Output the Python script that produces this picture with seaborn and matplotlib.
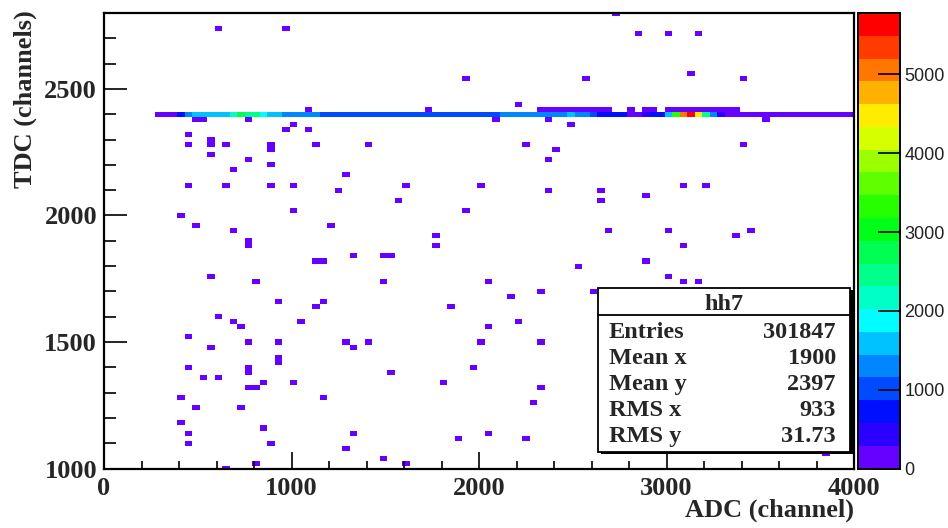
import numpy as np
import pandas as pd
import matplotlib
matplotlib.use("Agg")
import matplotlib.pyplot as plt
from matplotlib.colors import ListedColormap
from matplotlib.patches import Rectangle
from matplotlib.lines import Line2D
from matplotlib.ticker import MultipleLocator
import seaborn as sns

# ------------------------------------------------------------------ data
# main band (TDC ~ 2400): ADC bin values and their contents
main_tdc = 2400
main_adc = [290, 330, 370, 410, 450, 490, 530, 570, 610, 650, 690, 730, 770, 810, 850, 890, 930, 970, 1010, 1050, 1090, 1130,
            1170, 1210, 1250, 1290, 1330, 1370, 1410, 1450, 1490, 1530, 1570, 1610, 1650, 1690, 1730, 1770, 1810, 1850,
            1890, 1930, 1970, 2010, 2050, 2090,
            2130, 2170, 2210, 2250, 2290, 2330, 2370, 2410, 2450, 2490, 2530, 2570, 2610, 2650, 2690, 2730, 2770, 2810,
            2850, 2890, 2930, 2970,
            3010, 3050, 3090, 3130, 3170, 3210, 3250, 3290,
            3330, 3370, 3410, 3450, 3490, 3530, 3570, 3610, 3650, 3690, 3730, 3770, 3810, 3850, 3890, 3930, 3970, 4010]
main_counts = [145, 145, 145, 723, 1301, 1590, 1590, 1590, 1590, 1590, 2168, 2746, 2457, 2457, 1879, 1590, 1590,
               1301, 1301, 1301, 1301, 1301,
               1020, 985, 1040, 1005, 960, 1050, 1010, 990, 1030, 970, 1015, 1045, 995, 980, 1025, 1060, 1000, 975,
               1035, 1010, 990, 1050, 1020, 985,
               1280, 1310, 1295, 1330, 1270, 1240, 1260, 1300, 1320, 1600, 1350, 1310, 1080, 740, 700, 760, 690, 230,
               250, 420, 680, 750,
               1650, 3330, 5050, 5700, 4450, 2500, 1300, 420,
               120, 140, 110, 160, 130, 150, 100, 120, 140, 90, 110, 130, 100, 120, 90, 110, 80, 60]

# row just above the band (TDC ~ 2420)
upper_tdc = 2420
upper_adc = [2330, 2370, 2410, 2450, 2490, 2530, 2570, 2610, 2650, 2690, 2810, 2890, 2930,
             3010, 3050, 3090, 3130, 3170, 3210, 3250, 3290, 3330, 3370]
upper_counts = [30, 45, 40, 60, 35, 50, 40, 55, 30, 25, 20, 25, 30,
                60, 90, 120, 140, 110, 80, 50, 40, 30, 25]

# isolated single entries (ADC, TDC)
stray_adc = [615, 976, 1095, 500, 540, 779, 1019, 976, 1095,
             460, 581, 460, 581, 660, 898, 898, 1136, 1419, 581, 779, 898,
             699, 1298, 460, 660, 898, 1019, 1259, 1616, 1575, 420, 1019, 496, 1216, 699,
             2738, 2857, 3013, 3175, 3134, 1934, 2576, 3413, 2215, 1735, 2096, 2379, 2498, 3540,
             2257, 2414, 2379, 3413, 2018, 2379, 2654, 2654, 2893, 3097, 3216, 1934, 1778, 2695,
             3013, 3456, 3372,
             779, 779, 1780, 1780, 1140, 1180, 1335, 1500, 1540, 581, 820, 1495, 2053,
             939, 1136, 1179, 1856, 615, 699, 738, 1060, 2053, 460, 779, 939, 1298, 1335, 1419,
             2020, 581, 939, 939, 779, 779, 460, 1540, 1977, 537, 615, 779, 820, 855, 1019, 1815,
             420, 1179, 496, 738, 420, 460, 855, 1335, 2053, 460, 898, 1298, 1899, 1495, 1616, 820, 660,
             3097, 2533, 2892, 3013, 3097, 3173, 2174, 2338, 2611, 2217, 2338, 2338, 2295, 2259, 3859]
stray_tdc = [2746, 2746, 2424, 2384, 2384, 2384, 2362, 2342, 2342,
             2325, 2307, 2289, 2272, 2272, 2262, 2282, 2272, 2289, 2238, 2222, 2205,
             2183, 2160, 2127, 2110, 2127, 2127, 2093, 2127, 2058, 1998, 2019, 1964, 1964, 1930,
             2796, 2728, 2712, 2712, 2564, 2532, 2532, 2532, 2437, 2420, 2381, 2381, 2368, 2381,
             2272, 2256, 2222, 2272, 2110, 2093, 2093, 2058, 2076, 2110, 2110, 2019, 1914, 1930,
             1947, 1947, 1914,
             1882, 1902, 1912, 1877, 1817, 1817, 1835, 1835, 1835, 1765, 1730, 1730, 1749,
             1653, 1637, 1653, 1637, 1603, 1586, 1568, 1586, 1551, 1528, 1508, 1491, 1491, 1474, 1508,
             1491, 1474, 1422, 1442, 1382, 1402, 1405, 1387, 1405, 1366, 1366, 1327, 1310, 1345, 1345, 1345,
             1276, 1276, 1242, 1242, 1180, 1147, 1164, 1147, 1147, 1096, 1096, 1078, 1113, 1040, 1018, 1018, 1001,
             1877, 1800, 1817, 1766, 1749, 1732, 1673, 1692, 1692, 1584, 1508, 1326, 1258, 1113, 1057]

# axis / colour-bar tick labels and statistics box
x_ticks = [0, 1000, 2000, 3000, 4000]
x_labels = ["0", "1000", "2000", "3000", "4000"]
y_ticks = [1000, 1500, 2000, 2500]
y_labels = ["1000", "1500", "2000", "2500"]
z_ticks = [0, 1000, 2000, 3000, 4000, 5000]
z_labels = ["0", "1000", "2000", "3000", "4000", "5000"]
z_max = 5780
hist_name = "hh7"
stat_names = ["Entries", "Mean x", "Mean y", "RMS x", "RMS y"]
stat_values = ["301847", "1900", "2397", "933", "31.73"]

# ------------------------------------------------------------------ table
df = pd.concat([
    pd.DataFrame({"adc": main_adc, "tdc": main_tdc, "w": main_counts}),
    pd.DataFrame({"adc": upper_adc, "tdc": upper_tdc, "w": upper_counts}),
    pd.DataFrame({"adc": stray_adc, "tdc": stray_tdc, "w": 1}),
], ignore_index=True)

# ROOT "pretty" palette, 20 contour levels
palette = ["#6600ff", "#2b00ff", "#0010ff", "#004bff", "#0086ff", "#00c2ff", "#00fdff", "#00ffc7",
           "#00ff8b", "#00ff50", "#00ff16", "#25ff00", "#60ff00", "#9cff00", "#d6ff00", "#ffec00",
           "#ffb100", "#ff7600", "#ff3b00", "#ff0000"]
cmap = ListedColormap(palette)

sns.set_style("white")
plt.rcParams["font.family"] = ["Liberation Serif", "DejaVu Serif"]

W, H = 948, 528
fig = plt.figure(figsize=(W / 100, H / 100), dpi=100)
fx = lambda px: px / W
fy = lambda py: 1 - py / H

ax_l, ax_r, ax_t, ax_b = 104, 854, 13, 468.5
ax = fig.add_axes([fx(ax_l), fy(ax_b), (ax_r - ax_l) / W, (ax_b - ax_t) / H])
cax = fig.add_axes([fx(858), fy(ax_b), 42 / W, (ax_b - ax_t) / H])

sns.histplot(data=df, x="adc", y="tdc", weights="w",
             binwidth=(40, 20), binrange=((-10, 4030), (990, 2810)),
             cmap=cmap, vmin=0, vmax=z_max, cbar=True, cbar_ax=cax,
             cbar_kws={"ticks": z_ticks}, ax=ax)

ax.set_axisbelow(False)
ax.set_xlim(0, 4000)
ax.set_ylim(1000, 2800)
ax.set_xticks(x_ticks)
ax.set_xticklabels(x_labels, fontsize=19, fontweight="bold")
ax.set_yticks(y_ticks)
ax.set_yticklabels(y_labels, fontsize=19, fontweight="bold")
ax.xaxis.set_minor_locator(MultipleLocator(200))
ax.yaxis.set_minor_locator(MultipleLocator(100))
ax.tick_params(axis="x", which="major", direction="in", length=12, width=1.2, color="black", pad=6,
               bottom=True, top=False)
ax.tick_params(axis="x", which="minor", direction="in", length=6, width=1.2, color="black",
               bottom=True, top=False)
ax.tick_params(axis="y", which="major", direction="in", length=16.5, width=1.2, color="black", pad=5,
               left=True, right=False)
ax.tick_params(axis="y", which="minor", direction="in", length=8.5, width=1.2, color="black",
               left=True, right=False)
for sp in ax.spines.values():
    sp.set_visible(True)
    sp.set_color("black")
    sp.set_linewidth(1.6)

ax.set_xlabel("ADC (channel)", fontsize=19, fontweight="bold", loc="right")
ax.set_ylabel("TDC (channels)", fontsize=19, fontweight="bold", loc="top")
ax.xaxis.set_label_coords(1.0, -0.066)
ax.yaxis.set_label_coords(-0.089, 1.005)

# colour bar
cax.set_axisbelow(False)
cax.set_yticks(z_ticks)
cax.set_yticklabels(z_labels, fontsize=13, fontfamily="Liberation Sans", color="#222222")
cax.tick_params(axis="y", which="major", direction="in", length=16, width=1.2, color="black", pad=3,
                left=False, right=True)
cax.tick_params(axis="y", which="minor", left=False, right=False)
cax.minorticks_off()
for sp in cax.spines.values():
    sp.set_visible(True)
    sp.set_color("black")
    sp.set_linewidth(1.2)
for t in cax.yaxis.get_major_ticks():
    t.tick2line.set_zorder(10)
    t.tick1line.set_zorder(10)
cax.yaxis.set_zorder(10)

# statistics box (ROOT style, with shadow)
bx_l, bx_r, bx_t, bx_b = 598, 850, 287.5, 451.5
fig.add_artist(Rectangle((fx(bx_l + 2.5), fy(bx_b + 2.5)), (bx_r - bx_l) / W, (bx_b - bx_t) / H,
                         transform=fig.transFigure, facecolor="black", edgecolor="black", lw=0, zorder=5))
fig.add_artist(Rectangle((fx(bx_l), fy(bx_b)), (bx_r - bx_l) / W, (bx_b - bx_t) / H,
                         transform=fig.transFigure, facecolor="white", edgecolor="black", lw=1.3, zorder=6))
fig.add_artist(Line2D([fx(bx_l), fx(bx_r)], [fy(315), fy(315)], transform=fig.transFigure,
                      color="black", lw=1.3, zorder=7))
fig.text(fx((bx_l + bx_r) / 2), fy(310), hist_name, fontsize=17.5, fontweight="bold",
         ha="center", va="baseline", zorder=8)
for i, (nm, val) in enumerate(zip(stat_names, stat_values)):
    yb = 338 + 26 * i
    fig.text(fx(609), fy(yb), nm, fontsize=17.5, fontweight="bold", ha="left", va="baseline", zorder=8)
    fig.text(fx(836), fy(yb), val, fontsize=17.5, fontweight="bold", ha="right", va="baseline", zorder=8)

fig.savefig("out.png", dpi=100)
